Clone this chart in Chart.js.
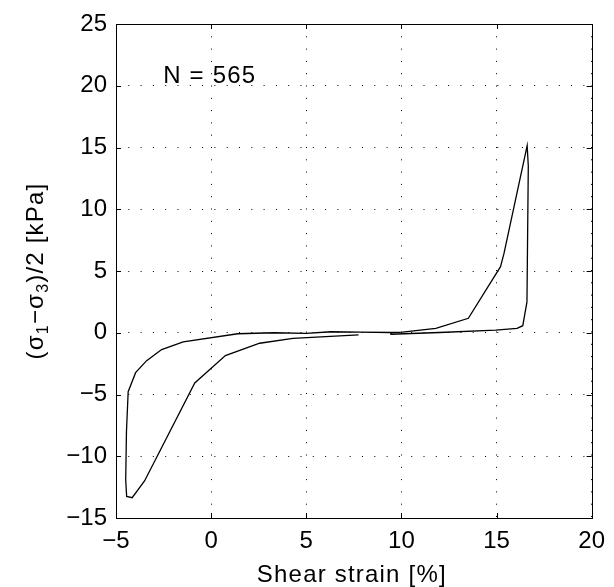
<!DOCTYPE html>
<html>
<head>
<meta charset="utf-8">
<script src="https://cdn.jsdelivr.net/npm/chart.js@4.4.1/dist/chart.umd.min.js"></script>
<style>
  html, body { margin: 0; padding: 0; background: #fff; }
</style>
</head>
<body>
<canvas id="myChart" width="614" height="587"></canvas>
<script>
// shear strain [%] along the recorded loop
var strain = [7.75, 4.3, 2.55, 0.75, -0.86, -3.5, -4.15, -4.44, -4.49, -4.45, -4.36, -3.97, -3.39, -2.6, -1.47,
  1.4, 3.3, 5.0, 6.3, 7.8, 9.45, 9.45, 12.0, 14.95, 16.08, 16.38, 16.6, 16.67, 16.61, 15.39, 15.21, 13.52, 11.81, 10.06, 9.45];
// (s1-s3)/2 [kPa]
var stress = [-0.17, -0.45, -0.85, -1.85, -4.07, -12.0, -13.36, -13.25, -11.9, -8.0, -4.77, -3.23, -2.26, -1.36, -0.74,
  -0.08, 0.0, -0.05, 0.08, 0.05, 0.02, -0.12, 0.02, 0.22, 0.36, 0.57, 2.5, 13.5, 15.15, 6.4, 5.35, 1.17, 0.36, 0.05, 0.02];

var xTicks = [-5, 0, 5, 10, 15, 20];
var yTicks = [-15, -10, -5, 0, 5, 10, 15, 20, 25];
var cycleText = 'N = 565';
var cycleAt = [-2.52, 20.2];   // left / baseline of the label, in data units
var xTitle = 'Shear strain [%]';

var FONT = '"Liberation Sans", Arial, Helvetica, sans-serif';

function minus(v) {
  return String(v).replace('-', '\u2212');
}

// box, inward ticks, titles and the N label
var decorations = {
  id: 'decorations',
  afterDraw: function(chart) {
    var ctx = chart.ctx;
    var a = chart.chartArea;
    var xs = chart.scales.x, ys = chart.scales.y;
    ctx.save();
    ctx.strokeStyle = '#000';
    ctx.lineWidth = 1;
    ctx.setLineDash([]);
    ctx.strokeRect(Math.round(a.left) + 0.5, Math.round(a.top) + 0.5,
      Math.round(a.right - a.left), Math.round(a.bottom - a.top));

    var t = 5;
    ctx.beginPath();
    xTicks.forEach(function(v) {
      var px = Math.round(xs.getPixelForValue(v)) + 0.5;
      ctx.moveTo(px, a.bottom); ctx.lineTo(px, a.bottom - t);
      ctx.moveTo(px, a.top); ctx.lineTo(px, a.top + t);
    });
    yTicks.forEach(function(v) {
      var py = Math.round(ys.getPixelForValue(v)) + 0.5;
      ctx.moveTo(a.left, py); ctx.lineTo(a.left + t, py);
      ctx.moveTo(a.right, py); ctx.lineTo(a.right - t, py);
    });
    ctx.stroke();

    ctx.fillStyle = '#000';
    ctx.letterSpacing = '1.2px';

    // N label
    ctx.font = '24px ' + FONT;
    ctx.textAlign = 'left';
    ctx.textBaseline = 'alphabetic';
    ctx.fillText(cycleText, xs.getPixelForValue(cycleAt[0]), ys.getPixelForValue(cycleAt[1]));

    // x title
    ctx.textAlign = 'center';
    ctx.fillText(xTitle, (a.left + a.right) / 2 - 2, 582);

    // y title with subscripts
    var parts = [
      { t: '(\u03c3', sub: false },
      { t: '1', sub: true },
      { t: '\u2212\u03c3', sub: false },
      { t: '3', sub: true },
      { t: ')/2 [kPa]', sub: false }
    ];
    var total = 0;
    parts.forEach(function(p) {
      ctx.font = (p.sub ? '16px ' : '24px ') + FONT;
      p.w = ctx.measureText(p.t).width;
      total += p.w;
    });
    ctx.translate(0, (a.top + a.bottom) / 2);
    ctx.rotate(-Math.PI / 2);
    ctx.textAlign = 'left';
    var cx = -total / 2;
    parts.forEach(function(p) {
      ctx.font = (p.sub ? '16px ' : '24px ') + FONT;
      ctx.fillText(p.t, cx, p.sub ? 48 : 43);
      cx += p.w;
    });
    ctx.restore();
  }
};

function displayChart() {
  var ctx = document.getElementById('myChart').getContext('2d');
  var points = strain.map(function(x, i) { return { x: x, y: stress[i] }; });

  new Chart(ctx, {
    type: 'scatter',
    data: {
      datasets: [{
        data: points,
        showLine: true,
        borderColor: '#000',
        borderWidth: 1.3,
        pointRadius: 0,
        tension: 0,
        fill: false
      }]
    },
    options: {
      responsive: false,
      animation: false,
      layout: { padding: { left: 0, top: 24, right: 21, bottom: 0 } },
      plugins: {
        legend: { display: false },
        tooltip: { enabled: false }
      },
      scales: {
        x: {
          type: 'linear',
          min: -5,
          max: 20,
          afterBuildTicks: function(scale) {
            scale.ticks = xTicks.map(function(v) { return { value: v }; });
          },
          afterFit: function(scale) { scale.height = 69; },
          ticks: {
            color: '#000',
            padding: 9,
            font: { family: FONT, size: 24 },
            callback: function(v) { return minus(v); }
          },
          grid: { color: '#000', lineWidth: 1, drawTicks: false },
          border: { display: false, dash: [1, 11.3] }
        },
        y: {
          type: 'linear',
          min: -15,
          max: 25,
          afterBuildTicks: function(scale) {
            scale.ticks = yTicks.map(function(v) { return { value: v }; });
          },
          afterFit: function(scale) { scale.width = 116; },
          ticks: {
            color: '#000',
            padding: 9,
            font: { family: FONT, size: 24 },
            callback: function(v) { return minus(v); }
          },
          grid: { color: '#000', lineWidth: 1, drawTicks: false },
          border: { display: false, dash: [1, 11.3] }
        }
      }
    },
    plugins: [decorations]
  });
}

displayChart();
</script>
</body>
</html>
